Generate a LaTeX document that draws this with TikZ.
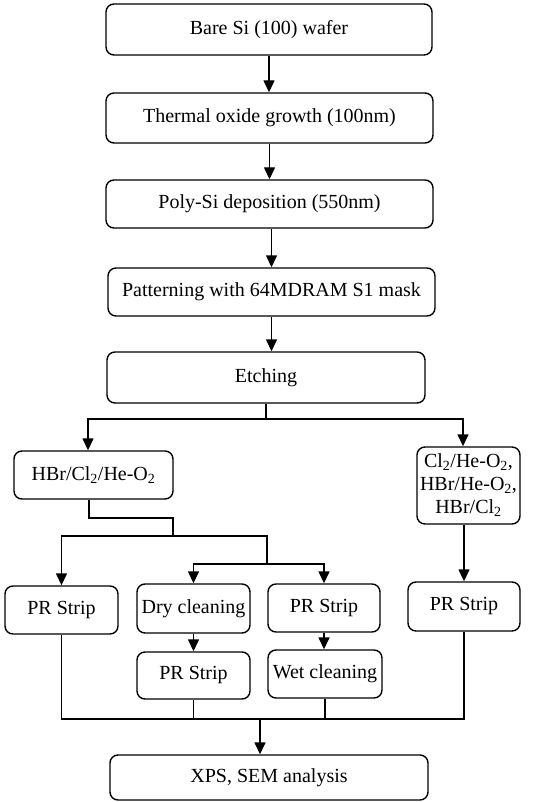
\documentclass[tikz,border=0pt]{standalone}
\usepackage{fontspec}
\setmainfont{Liberation Serif}
\usetikzlibrary{arrows.meta}
\begin{document}
\begin{tikzpicture}[x=1pt,y=-1pt,
  box/.style={draw,line width=1.4pt,rounded corners=8pt,inner sep=0pt,align=center,
    font=\fontsize{20}{23}\selectfont},
  ln/.style={line width=1.4pt},
  arr/.style={ln,-{Triangle[width=11pt,length=12pt]}}]
\useasboundingbox (0,0) rectangle (536,802);
\node[box,minimum width=326pt,minimum height=51pt] (b1) at (269,29.5) {Bare Si (100) wafer};
\node[box,minimum width=327pt,minimum height=50pt] (b2) at (269.5,118) {Thermal oxide growth (100nm)};
\node[box,minimum width=327pt,minimum height=48pt] (b3) at (269.5,204) {Poly-Si deposition (550nm)};
\node[box,minimum width=327pt,minimum height=48pt] (b4) at (271.5,292) {Patterning with 64MDRAM S1 mask};
\node[box,minimum width=318pt,minimum height=51pt] (b5) at (266,377.5) {Etching};
\node[box,minimum width=159pt,minimum height=48pt] (hbr) at (93.5,475) {HBr/Cl\textsubscript{2}/He-O\textsubscript{2}};
\node[box,minimum width=103pt,minimum height=77pt] (rgt) at (468.5,485.5) {Cl\textsubscript{2}/He-O\textsubscript{2},\\HBr/He-O\textsubscript{2},\\HBr/Cl\textsubscript{2}};
\node[box,minimum width=113pt,minimum height=48pt] (pr1) at (61.5,610) {PR Strip};
\node[box,minimum width=113pt,minimum height=49pt] (dry) at (193.5,608.5) {Dry cleaning};
\node[box,minimum width=112pt,minimum height=48pt] (pr2) at (324,608) {PR Strip};
\node[box,minimum width=112pt,minimum height=49pt] (pr4) at (464,606.5) {PR Strip};
\node[box,minimum width=113pt,minimum height=47pt] (pr3) at (193.5,675.5) {PR Strip};
\node[box,minimum width=114pt,minimum height=48pt] (wet) at (325,674) {Wet cleaning};
\node[box,minimum width=318pt,minimum height=45pt] (xps) at (269,777.5) {XPS, SEM analysis};
% main chain
\draw[arr] (b1.south) -- (b1.south |- b2.north);
\draw[arr] (b2.south) -- (b2.south |- b3.north);
\draw[arr] (b4.south |- b3.south) -- (b4.north);
\draw[arr] (b4.south) -- (b4.south |- b5.north);
% split after etching
\coordinate (s1) at (266,419);
\draw[ln] (b5.south) -- (s1);
\draw[arr] (s1) -| ([xshift=-5.5pt]hbr.north);
\draw[arr] (s1) -| ([xshift=-5.5pt]rgt.north);
% left branch
\coordinate (k1) at (173,518);
\coordinate (s2) at (173,536);
\coordinate (s3) at (267,564);
\draw[ln] ([xshift=-4.5pt]hbr.south) |- (k1) -- (s2);
\draw[arr] (s2) -| (pr1.north);
\draw[ln] (s2) -| (s3);
\draw[arr] (s3) -| (dry.north);
\draw[arr] (s3) -| (pr2.north);
\draw[arr] (dry.south) -- (dry.south |- pr3.north);
\draw[arr] (pr2.south) -- (pr2.south |- wet.north);
% right branch
\draw[arr] (pr4.north |- rgt.south) -- (pr4.north);
% merge
\coordinate (m) at (260,719);
\draw[ln] (pr1.south) |- (m) -| (pr4.south);
\draw[ln] (pr3.south) -- (pr3.south |- m);
\draw[ln] (wet.south) -- (wet.south |- m);
\draw[arr] (m) -- (m |- xps.north);
\end{tikzpicture}
\end{document}
